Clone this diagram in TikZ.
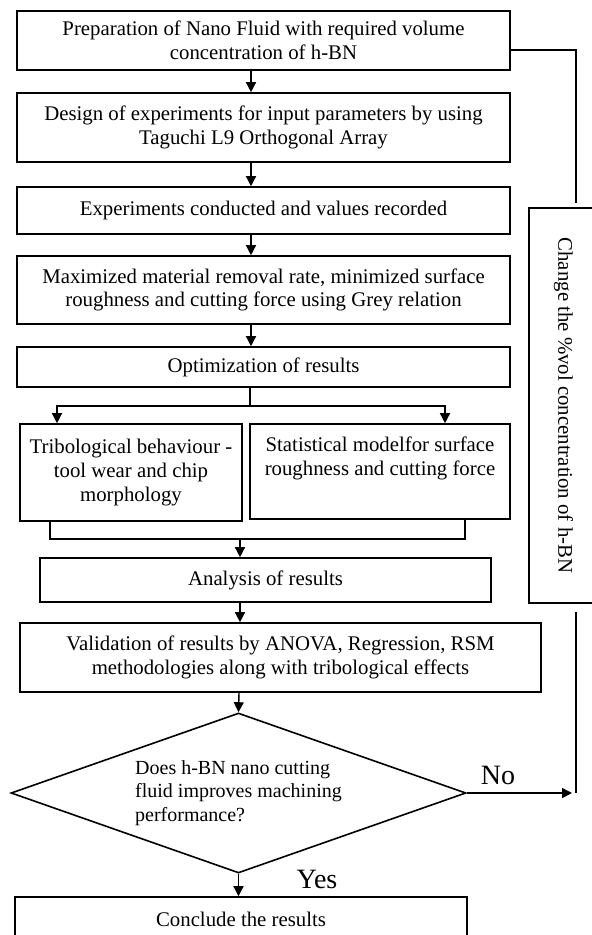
\documentclass[tikz,border=0pt]{standalone}
\usepackage{fontspec}
\setmainfont{Liberation Serif}
\usetikzlibrary{arrows.meta}
\usetikzlibrary{shapes.geometric}

\tikzset{
 procbox/.style={draw, line width=0.8pt, align=center, inner sep=0pt, font=\fontsize{10.4}{11.8}\selectfont},
 decbox/.style={draw, diamond, shape aspect=2.84, line width=0.8pt, align=left, inner sep=0pt, font=\fontsize{10}{11.8}\selectfont},
 arr/.style={line width=0.7pt, -{Triangle[length=5pt,width=5pt]}},
 link/.style={line width=0.7pt},
 answer/.style={font=\fontsize{14}{16}\selectfont, inner sep=0pt}
}

\begin{document}
\begin{tikzpicture}[x=0.5pt,y=-0.5pt]
\useasboundingbox (0,0) rectangle (592,935);
\clip (0,0) rectangle (592,935);
% process boxes
\node[procbox, minimum width=246.5pt, minimum height=29.5pt] (b1) at (263.5,40.5) {Preparation of Nano Fluid with required volume\\concentration of h-BN};
\node[procbox, minimum width=246.5pt, minimum height=34.5pt] (b2) at (263.5,127.5) {Design of experiments for input parameters by using\\Taguchi L9 Orthogonal Array};
\node[procbox, minimum width=246.5pt, minimum height=23.5pt] (b3) at (263.5,210.5) {Experiments conducted and values recorded};
\node[procbox, minimum width=246.5pt, minimum height=34pt] (b4) at (263.5,290) {Maximized material removal rate, minimized surface\\roughness and cutting force using Grey relation};
\node[procbox, minimum width=246.5pt, minimum height=20pt] (b5) at (263.5,367) {Optimization of results};
\node[procbox, minimum width=111pt, minimum height=48.5pt] (b6) at (131,472.5) {Tribological behaviour -\\tool wear and chip\\morphology};
\node[procbox, minimum width=130pt, minimum height=47.5pt] (b7) at (380,471.5) {Statistical modelfor surface\\roughness and cutting force\\\strut};
\node[procbox, minimum width=225.5pt, minimum height=22pt] (b8) at (265.5,580) {Analysis of results};
\node[procbox, minimum width=260.5pt, minimum height=34.5pt] (b9) at (280.5,657.5) {Validation of results by ANOVA, Regression, RSM\\methodologies along with tribological effects};
\node[decbox, minimum width=227.5pt, minimum height=80pt] (dec) at (238.5,793) {Does h-BN nano cutting\\fluid improves machining\\performance?};
\node[procbox, minimum width=226pt, minimum height=22pt] (b10) at (241,919) {Conclude the results};
\node[procbox, rotate=-90, minimum width=197.5pt, minimum height=34.5pt] (chg) at (563.5,405.5) {Change the \%vol concentration of h-BN};
\node[answer] (no) at (498,775) {No};
\node[answer] (yes) at (317,879) {Yes};

% connectors
\coordinate (ax) at (251,0);
\coordinate (ay) at (239,0);
\foreach \a/\b in {b1/b2, b2/b3, b3/b4, b4/b5}
 \draw[arr] (\a.south -| ax) -- (\b.north -| ax);
\coordinate (sp) at (250,406);
\coordinate (tl) at (57,0);
\coordinate (tr) at (445,0);
\draw[link] (b5.south -| sp) -- (sp);
\draw[arr] (sp) -| (b6.north -| tl);
\draw[arr] (sp) -| (b7.north -| tr);
\coordinate (mg) at (240,539);
\coordinate (ml) at (50,0);
\coordinate (mr) at (465,0);
\draw[link] (b6.south -| ml) |- (mg) -| (b7.south -| mr);
\draw[arr] (mg) -- (b8.north -| mg);
\draw[arr] (b8.south -| mg) -- (b9.north -| mg);
\draw[arr] (b9.south -| ay) -- (dec.north);
\draw[arr] (dec.south) -- (b10.north -| dec.south);
% feedback loop
\coordinate (fbt) at (576,50);
\coordinate (fbe) at (576,203);
\coordinate (fbb) at (576,612);
\draw[link] (b1.east |- fbt) -- (fbt) -- (fbe);
\draw[arr] (dec.east) -- ([xshift=-2pt]dec.east -| fbb);
\draw[link] (dec.east -| fbb) -- (fbb);
\end{tikzpicture}
\end{document}
